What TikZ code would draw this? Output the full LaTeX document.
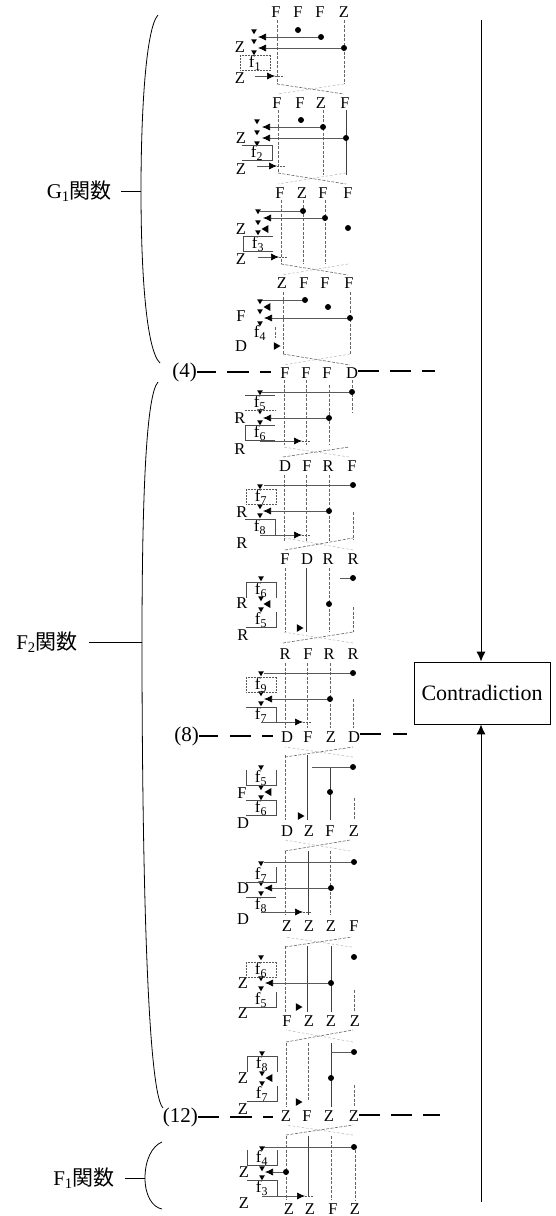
\documentclass[tikz,border=0pt]{standalone}
\usepackage{fontspec}
\setmainfont{Liberation Serif}
\newfontfamily\cjk{Noto Sans CJK JP}
\usetikzlibrary{arrows.meta,shapes.geometric}

\begin{document}
\begin{tikzpicture}[x=1pt,y=-1pt,
  letter/.style={inner sep=0pt, font=\fontsize{16.5}{18}\selectfont},
  fn/.style={inner sep=0pt, minimum width=30pt, minimum height=15pt, font=\fontsize{17}{18}\selectfont},
  dot/.style={circle, fill=black, inner sep=0pt, minimum size=6pt},
  tridown/.style={regular polygon, regular polygon sides=3, shape border rotate=180, fill=black, inner sep=0pt, minimum size=6.5pt},
  trileft/.style={regular polygon, regular polygon sides=3, shape border rotate=90, fill=black, inner sep=0pt, minimum size=9pt},
  triright/.style={regular polygon, regular polygon sides=3, shape border rotate=-90, fill=black, inner sep=0pt, minimum size=9pt},
  solidw/.style={line width=0.6pt, black!75},
  dashw/.style={line width=0.6pt, black!60, dash pattern=on 3pt off 1.5pt},
  faintw/.style={line width=0.5pt, black!30, dash pattern=on 2.5pt off 2pt},
  harrow/.style={line width=0.7pt, black!65, -{Latex[length=8pt,width=7pt,color=black]}},
  plainw/.style={line width=0.7pt, black!65},
  fside/.style={line width=0.6pt, black!70},
  fsided/.style={line width=0.6pt, black!65, dash pattern=on 2pt off 1pt},
  cutline/.style={line width=2pt, line cap=butt},
  brace/.style={line width=0.8pt},
  tickline/.style={line width=0.8pt},
  mainline/.style={line width=1pt, -{Latex[length=10pt,width=9pt]}},
  contrabox/.style={draw, line width=0.8pt, minimum width=136pt, minimum height=62pt, inner sep=0pt, font=\fontsize{22}{24}\selectfont},
  fname/.style={inner sep=0pt, font=\fontsize{21}{23}\selectfont},
  num/.style={inner sep=0pt, font=\fontsize{21}{23}\selectfont}
]
  \useasboundingbox (0,0) rectangle (555,1216);

  \foreach \r/\y/\xa/\xb/\xc/\xd/\la/\lb/\lc/\ld in {
    1/12/276/298/320/344/F/F/F/Z, 2/103/277/300/321/345/F/F/Z/F,
    3/193/280/302/323/348/F/Z/F/F, 4/283/282/304/325/349/Z/F/F/F,
    5/373/285/306/327/352/F/F/F/D, 6/466/285/307/328/352/D/F/R/F,
    7/559/285/307/328/353/F/D/R/R, 8/654/285/308/329/353/R/F/R/R,
    9/737/287/308/331/354/D/F/Z/D, 10/831/287/309/330/354/D/Z/F/Z,
    11/926/287/309/331/354/Z/Z/Z/F, 12/1021/287/309/331/355/F/Z/Z/Z,
    13/1116/286/307/329/354/Z/F/Z/Z, 14/1209/289/310/333/355/Z/Z/F/Z} {
    \node[letter] (n\r a) at (\xa,\y) {\la};
    \node[letter] (n\r b) at (\xb,\y) {\lb};
    \node[letter] (n\r c) at (\xc,\y) {\lc};
    \node[letter] (n\r d) at (\xd,\y) {\ld};
  }

  \foreach \x/\ya/\yb/\s [count=\i] in {
    277/20/84/dashw, 344/20/84/dashw,
    278/110/173/dashw, 323/110/175/dashw, 346/110/175/solidw,
    281/200/264/dashw, 303/200/264/dashw, 325/200/264/dashw,
    283/292/354/dashw, 350/292/354/dashw, 275/327/338/dashw,
    284/380/445/dashw, 306/380/445/dashw, 329/385/445/dashw, 352/380/412/dashw,
    284/475/541/dashw, 306/475/541/dashw, 329/475/541/dashw, 353/512/540/dashw,
    285/568/632/dashw, 306/568/632/solidw, 329/568/632/dashw, 353/607/632/dashw,
    285/663/728/dashw, 307/663/728/dashw, 330/663/728/dashw, 353/699/728/dashw,
    285/755/820/dashw, 307/755/820/solidw, 330/767/820/solidw, 354/798/820/dashw,
    285/851/915/dashw, 308/851/915/solidw, 330/851/915/dashw,
    285/946/1012/dashw, 307/946/1012/solidw, 331/946/1012/solidw, 354/990/1012/dashw,
    286/1043/1107/dashw, 308/1043/1100/dashw, 331/1043/1107/solidw, 354/1085/1107/dashw,
    286/1136/1200/dashw, 308/1136/1196/solidw, 331/1136/1200/dashw, 355/1150/1200/dashw} {
    \coordinate (vt\i) at (\x,\ya);
    \coordinate (vb\i) at (\x,\yb);
    \draw[\s] (vt\i) -- (vb\i);
  }

  \foreach \xl/\xr/\ya/\yb [count=\i] in {
    277/344/84/94, 278/346/173/184, 281/348/264/275, 283/350/354/365,
    283/349/457/447, 285/353/550/538, 283/353/643/632, 285/353/757/747,
    285/350/851/840, 285/352/947/937, 286/353/1042/1030, 286/353/1135/1125} {
    \coordinate (ca\i) at (\xl,\ya);
    \coordinate (cb\i) at (\xr,\yb);
    \coordinate (cc\i) at (\xr,\ya);
    \coordinate (cd\i) at (\xl,\yb);
    \draw[dashw] (ca\i) -- (cb\i);
    \draw[faintw] (cc\i) -- (cd\i);
  }

  \foreach \n/\x/\y/\e/\s in {
    d1b/321/37/258/harrow, d1c/344/48/258/harrow,
    d2b/323/127/262/harrow, d2c/346/138/262/harrow,
    d3a/303/211/260/plainw, d3b/325/218/263/harrow,
    d4a/305/300/262/plainw, d4c/350/318/264/harrow,
    d5a/352/392/262/plainw, d5b/329/418/263/harrow,
    d6a/353/485/264/plainw, d6b/329/511/263/harrow,
    d7a/353/578/340/plainw,
    d8a/353/673/264/plainw, d8b/330/699/264/harrow,
    d9a/353/767/312/plainw,
    d10a/354/862/264/plainw, d10b/331/888/264/harrow,
    d11b/331/983/265/harrow,
    d12a/354/1052/331/plainw,
    d13a/354/1147/264/plainw, d13b/286/1172/265/harrow} {
    \node[dot] (\n) at (\x,\y) {};
    \coordinate (e\n) at (\e,\y);
    \draw[\s] (\n) -- (e\n);
  }
  \foreach \x/\y [count=\i] in {298/30, 301/120, 348/228, 328/307, 329/604, 330/792, 354/957, 331/1078}
    \node[dot] (fd\i) at (\x,\y) {};

  \foreach \x/\y [count=\i] in {
    254/31, 254/41, 254/52, 257/121, 257/132, 257/143, 258/211, 258/222, 258/232,
    260/301, 260/311, 260/323, 260/392, 260/411, 260/422, 260/486, 260/506, 260/515,
    261/578, 261/598, 261/609, 261/673, 261/693, 261/703, 261/767, 261/787, 261/797,
    261/863, 261/883, 261/893, 261/957, 261/978, 261/988, 262/1053, 262/1073, 262/1083,
    262/1148, 262/1168, 262/1177}
    \node[tridown] (td\i) at (\x,\y) {};
  \foreach \x/\y [count=\i] in {266/229, 268/307, 268/604, 269/792, 270/1078}
    \node[trileft] (tl\i) at (\x,\y) {};
  \foreach \x/\y [count=\i] in {276/346, 299/628, 300/816, 298/1007, 298/1102}
    \node[triright] (tr\i) at (\x,\y) {};

  \foreach \x/\y/\e [count=\i] in {
    255/76/275, 257/166/277, 258/257/279, 260/441/302,
    260/535/302, 261/722/303, 261/912/303, 262/1196/305} {
    \coordinate (ra\i) at (\x,\y);
    \coordinate (rb\i) at (\e,\y);
    \coordinate (rc\i) at (\e+9,\y);
    \draw[fsided] (rb\i) -- (rc\i);
    \draw[harrow] (ra\i) -- (rb\i);
  }

  \foreach \n/\x/\y/\l in {
    s1/240/47/Z, s2/240/78/Z, s3/241/138/Z, s4/241/169/Z, s5/241/229/Z, s6/241/259/Z,
    s7/241/316/F, s8/241/346/D, s9/240/418/R, s10/240/449/R, s11/242/512/R, s12/242/543/R,
    s13/242/603/R, s14/243/635/R, s15/242/793/F, s16/243/823/D, s17/243/888/D, s18/243/919/D,
    s19/243/983/Z, s20/243/1013/Z, s21/243/1078/Z, s22/243/1109/Z, s23/244/1172/Z, s24/244/1203/Z}
    \node[letter] (\n) at (\x,\y) {\l};

  \foreach \n/\x/\y/\k in {
    f1a/255/63/1, f2a/257/153/2, f3a/258/244/3, f4a/260/333/4,
    f5a/260/403/5, f5b/260/433/6, f6a/261/497/7, f6b/260/527/8,
    f7a/261/590/6, f7b/261/620/5, f8a/261/685/9, f8b/261/715/7,
    f9a/261/778/5, f9b/261/808/6, f10a/261/875/7, f10b/261/905/8,
    f11a/261/970/6, f11b/261/1000/5, f12a/262/1064/8, f12b/262/1094/7,
    f13a/262/1158/4, f13b/262/1188/3}
    \node[fn] (\n) at (\x,\y) {f\textsubscript{\k}};

  \foreach \n in {f1a, f6a, f8a, f11a}
    \draw[fsided] (\n.north west) rectangle (\n.south east);
  \foreach \n in {f2a, f9b}
    \draw[fside] (\n.north west) -- (\n.north east) -- (\n.south east) -- (\n.south west);
  \foreach \n in {f3a, f5b}
    \draw[fside] (\n.north east) -- (\n.north west) -- (\n.south west) -- (\n.south east);
  \foreach \n in {f6b, f8b, f13b}
    \draw[fside] (\n.north west) -- (\n.north east) -- (\n.south east);
  \foreach \n in {f7b, f10a, f11b, f12b}
    \draw[fside] (\n.north east) -- (\n.south east) -- (\n.south west);
  \foreach \n in {f9a, f13a}
    \draw[fside] (\n.north west) -- (\n.south west) -- (\n.south east) -- (\n.north east);
  \foreach \n in {f7a, f12a}
    \draw[fside] (\n.south west) -- (\n.north west) -- (\n.north east) -- (\n.south east);
  \foreach \n in {f5a} {
    \draw[fside] (\n.north west) -- (\n.north east);
    \draw[fsided] (\n.south west) -- (\n.south east);
  }
  \draw[fside] (f10b.north west) -- (f10b.north east);

  \node[num, anchor=east] (cut4) at (197,372) {(4)};
  \node[num, anchor=east] (cut8) at (199,736) {(8)};
  \node[num, anchor=east] (cut12) at (198,1117) {(12)};
  \coordinate (endfour) at (435,371);
  \coordinate (endeight) at (407,734);
  \coordinate (endtwelve) at (440,1115);
  \draw[cutline, shorten >=9pt, dash pattern=on 19pt off 11pt on 22pt off 11pt] (cut4.east) -- (cut4.east -| n5a.west);
  \draw[cutline, shorten >=8pt, dash pattern=on 19pt off 12pt on 21pt off 11pt] (cut8.east) -- (cut8.east -| n9a.west);
  \draw[cutline, shorten >=8pt, dash pattern=on 21pt off 11pt on 22pt off 11pt] (cut12.east) -- (cut12.east -| n13a.west);
  \draw[cutline, dash pattern=on 21pt off 11pt] (endfour -| n5d.east) -- (endfour);
  \draw[cutline, dash pattern=on 21pt off 12pt] (endeight -| n9d.east) -- (endeight);
  \draw[cutline, dash pattern=on 21pt off 11pt] (endtwelve -| n13d.east) -- (endtwelve);

  \node[fname, anchor=east] (gone) at (112,191) {G\textsubscript{1}{\cjk 関数}};
  \node[fname, anchor=east] (ftwo) at (78,642) {F\textsubscript{2}{\cjk 関数}};
  \node[fname, anchor=east] (fone) at (115,1178) {F\textsubscript{1}{\cjk 関数}};
  \coordinate (gonet) at (158,15);
  \coordinate (gonem) at (141,191);
  \coordinate (goneb) at (160,363);
  \coordinate (gones) at (121,191);
  \coordinate (ftwot) at (158,382);
  \coordinate (ftwom) at (142,642);
  \coordinate (ftwob) at (163,1108);
  \coordinate (ftwos) at (89,642);
  \coordinate (fonet) at (162,1142);
  \coordinate (fonem) at (145,1178);
  \coordinate (foneb) at (162,1209);
  \coordinate (fones) at (125,1178);
  \draw[brace] (gonet) .. controls (146,28) and (141,110) .. (gonem) .. controls (141,270) and (146,350) .. (goneb);
  \draw[brace] (ftwot) .. controls (146,395) and (142,500) .. (ftwom) .. controls (142,800) and (145,1090) .. (ftwob);
  \draw[brace] (fonet) .. controls (152,1146) and (145,1160) .. (fonem) .. controls (145,1195) and (152,1207) .. (foneb);
  \draw[tickline] (gones) -- (gonem);
  \draw[tickline] (ftwos) -- (ftwom);
  \draw[tickline] (fones) -- (fonem);

  \node[contrabox] (contra) at (482,693) {Contradiction};
  \coordinate (mainT) at (481,20);
  \coordinate (mainB) at (481,1202);
  \draw[mainline] (mainT) -- (contra.north -| mainT);
  \draw[mainline] (mainB) -- (contra.south -| mainB);
\end{tikzpicture}
\end{document}
